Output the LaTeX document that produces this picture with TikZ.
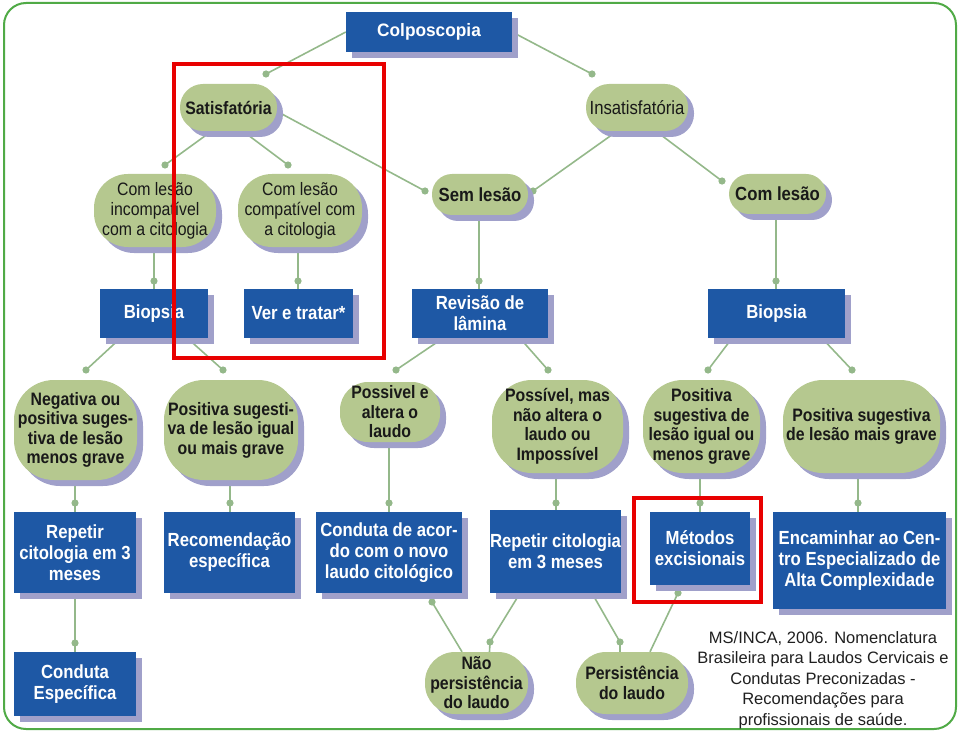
\documentclass[tikz,border=0pt]{standalone}
\usepackage{fontspec}
\setmainfont{Liberation Sans}
\newfontfamily\nar[FakeStretch=0.88]{Liberation Sans}
\newfontfamily\narb[FakeStretch=0.96]{Liberation Sans}
\usetikzlibrary{shadows,calc,backgrounds}
\definecolor{bluec}{RGB}{30,88,165}
\definecolor{pillc}{RGB}{181,200,143}
\definecolor{shadc}{RGB}{160,160,202}
\definecolor{connc}{RGB}{148,184,138}
\definecolor{borderc}{RGB}{80,170,70}
\definecolor{redc}{RGB}{232,0,0}
\begin{document}
\begin{tikzpicture}[x=1pt,y=-1pt,
  shad/.style={drop shadow={shadow xshift=6pt,shadow yshift=-6pt,opacity=1,fill=shadc}},
  sz/.style 2 args={minimum width=#1pt,minimum height=#2pt},
  bluebox/.style={shad,fill=bluec,text=white,align=center,inner sep=0pt,
    font=\nar\bfseries\fontsize{19}{21}\selectfont},
  pill/.style={shad,fill=pillc,text=black!90,align=center,inner sep=0pt,rounded corners=#1,
    font=\nar\bfseries\fontsize{18}{19.5}\selectfont},
  pillreg/.style={pill=#1,font=\nar\fontsize{18}{20}\selectfont},
  conn/.style={draw=connc,line width=1.6pt},
  dotc/.style={fill=connc},
  redbox/.style={draw=redc,line width=4pt}]
\useasboundingbox (0,0) rectangle (960,735);
\draw[borderc,line width=2pt,rounded corners=22] (4,3) rectangle (956,729);

% blue boxes
\node[bluebox,sz={166}{40},font=\narb\bfseries\fontsize{18}{20}\selectfont] (colp) at (429,32) {Colposcopia};
\node[bluebox,sz={108}{49}] (bioL) at (154,313.5) {Biopsia};
\node[bluebox,sz={109}{49}] (ver) at (298.5,313.5) {Ver e tratar*};
\node[bluebox,sz={136}{49}] (rev) at (480,313.5) {Revisão de\\lâmina};
\node[bluebox,sz={137}{49}] (bioR) at (776.5,313.5) {Biopsia};
\node[bluebox,sz={122}{81}] (rep1) at (75,552.5) {Repetir\\citologia em 3\\meses};
\node[bluebox,sz={131}{81}] (rec) at (229.5,552.5) {Recomendação\\específica};
\node[bluebox,sz={146}{81}] (cond) at (389,552.5) {Conduta de acor-\\do com o novo\\laudo citológico};
\node[bluebox,sz={129}{83}] (rep2) at (555.5,551.5) {Repetir citologia\\em 3 meses};
\node[bluebox,sz={100}{73}] (met) at (700,548.5) {Métodos\\excisionais};
\node[bluebox,sz={173}{97}] (enc) at (859.5,560.5) {Encaminhar ao Cen-\\tro Especializado de\\Alta Complexidade};
\node[bluebox,sz={122}{64}] (condesp) at (75,684) {Conduta\\Específica};

% green pills
\node[pill=23,sz={97}{47}] (sat) at (228.5,107.5) {Satisfatória};
\node[pillreg=23,sz={102}{47},font=\nar\fontsize{19}{20}\selectfont] (insat) at (637,107.5) {Insatisfatória};
\node[pillreg=34,sz={122}{73}] (cli) at (155,210.5) {Com lesão\\incompatível\\com a citologia};
\node[pillreg=34,sz={124}{73}] (clc) at (300,210.5) {Com lesão\\compatível com\\a citologia};
\node[pill=20,sz={96}{41},font=\nar\bfseries\fontsize{19}{20}\selectfont] (sem) at (480,194.5) {Sem lesão};
\node[pill=20,sz={97}{40},font=\nar\bfseries\fontsize{19}{20}\selectfont] (clR) at (777.5,194) {Com lesão};
\node[pill=40,sz={123}{100}] (neg) at (75.5,430) {Negativa ou\\positiva suges-\\tiva de lesão\\menos grave};
\node[pill=40,sz={134}{100}] (pos1) at (231,430) {Positiva sugesti-\\va de lesão igual\\ou mais grave};
\node[pill=28,sz={100}{60}] (pea) at (390,412) {Possivel e\\altera o\\laudo};
\node[pill=40,sz={131}{93}] (pmas) at (557.5,426.5) {Possível, mas\\não altera o\\laudo ou\\Impossível};
\node[pill=40,sz={117}{93}] (pos2) at (701.5,426.5) {Positiva\\sugestiva de\\lesão igual ou\\menos grave};
\node[pill=40,sz={157}{93}] (pos3) at (861.5,426.5) {Positiva sugestiva\\de lesão mais grave};
\node[pill=30,sz={103}{62}] (naop) at (476.5,683) {Não\\persistência\\do laudo};
\node[pill=30,sz={112}{62}] (pers) at (632,683) {Persistência\\do laudo};

% citation
\node[font=\fontsize{16.5}{20.5}\selectfont,align=center,text=black!88] (cite) at (823,680)
  {MS/INCA, 2006. Nomenclatura\\Brasileira para Laudos Cervicais e\\Condutas Preconizadas -\\Recomendações para\\profissionais de saúde.};

% dot coordinates
\coordinate (d1) at (266,74);
\coordinate (d2) at (592,74);
\coordinate (d3) at (165,165);
\coordinate (d4) at (288,165);
\coordinate (d5) at (425,191);
\coordinate (d6) at (533,191);
\coordinate (d7) at (722,181);
\coordinate (d8) at (154,281);
\coordinate (d9) at (298,281);
\coordinate (d10) at (479,281);
\coordinate (d11) at (776,281);
\coordinate (d12) at (86,370);
\coordinate (d13) at (223,370);
\coordinate (d14) at (396,370);
\coordinate (d15) at (548,370);
\coordinate (d16) at (708,370);
\coordinate (d17) at (852,370);
\coordinate (d18) at (75,503);
\coordinate (d19) at (230,503);
\coordinate (d20) at (389,503);
\coordinate (d21) at (556,503);
\coordinate (d22) at (700,503);
\coordinate (d23) at (858,503);
\coordinate (d24) at (75,643);
\coordinate (d25) at (432,602);
\coordinate (d26) at (490,642);
\coordinate (d27) at (620,642);
\coordinate (d28) at (678,593);

\begin{pgfonlayer}{background}
\draw[conn] (colp.west) -- (d1);
\draw[conn] (colp.east) -- (d2);
\draw[conn] ($(sat.south)+(-17,0)$) -- (d3);
\draw[conn] ($(sat.south)+(14.5,0)$) -- (d4);
\draw[conn] ($(sat.east)+(1,4.5)$) -- (d5);
\draw[conn] ($(insat.south)+(-20,0)$) -- (d6);
\draw[conn] ($(insat.south)+(19,0)$) -- (d7);
\draw[conn] (d8 |- cli.south) -- (d8) -- (d8 |- bioL.north);
\draw[conn] (d9 |- clc.south) -- (d9) -- (d9 |- ver.north);
\draw[conn] (d10 |- sem.south) -- (d10) -- (d10 |- rev.north);
\draw[conn] (d11 |- clR.south) -- (d11) -- (d11 |- bioR.north);
\draw[conn] ($(bioL.south)+(-33.6,0)$) -- (d12);
\draw[conn] ($(bioL.south)+(33.4,0)$) -- (d13);
\draw[conn] ($(rev.south)+(-37,0)$) -- (d14);
\draw[conn] ($(rev.south)+(40,0)$) -- (d15);
\draw[conn] ($(bioR.south)+(-44.5,0)$) -- (d16);
\draw[conn] ($(bioR.south)+(45.5,0)$) -- (d17);
\draw[conn] (d18 |- neg.south) -- (d18) -- (d18 |- rep1.north);
\draw[conn] (d19 |- pos1.south) -- (d19) -- (d19 |- rec.north);
\draw[conn] (d20 |- pea.south) -- (d20) -- (d20 |- cond.north);
\draw[conn] (d21 |- pmas.south) -- (d21) -- (d21 |- rep2.north);
\draw[conn] (d22 |- pos2.south) -- (d22) -- (d22 |- met.north);
\draw[conn] (d23 |- pos3.south) -- (d23) -- (d23 |- enc.north);
\draw[conn] (d24 |- rep1.south) -- (d24) -- (d24 |- condesp.north);
\draw[conn] ($(naop.north)+(-14.5,0)$) -- (d25);
\draw[conn] ($(rep2.south)+(-35.5,0)$) -- (d26) -- ($(naop.north)+(13,0)$);
\draw[conn] ($(rep2.south)+(36.5,0)$) -- (d27) -- ($(pers.north)+(-12,0)$);
\draw[conn] ($(pers.north)+(18,0)$) -- (d28);
\foreach \i in {1,...,28} {\fill[dotc] (d\i) circle (3.6);}
\end{pgfonlayer}

% red highlight frames
\draw[redbox] (174,64) rectangle (384,358);
\draw[redbox] (634,498) rectangle (761,602);
\end{tikzpicture}
\end{document}
